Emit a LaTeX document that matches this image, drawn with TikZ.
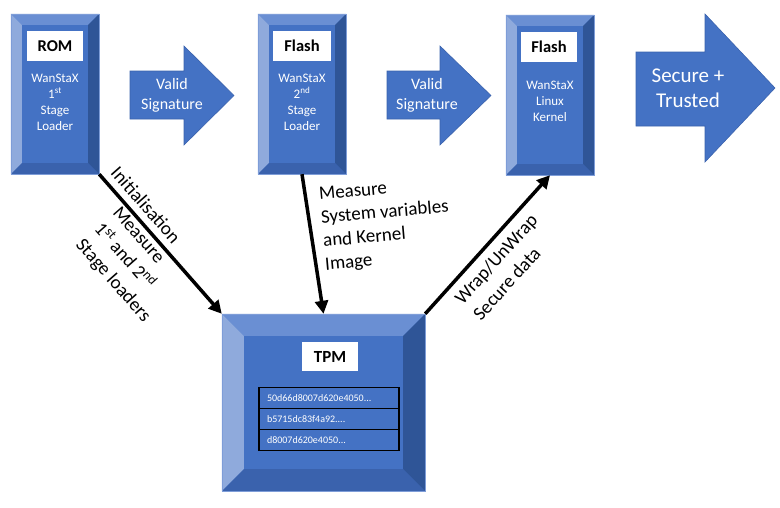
\documentclass[tikz,border=0pt]{standalone}
\usepackage{fontspec}
\setmainfont{Carlito}
\usetikzlibrary{arrows.meta,calc}
\definecolor{face}{HTML}{4472C4}
\definecolor{bvtop}{HTML}{6A8FD3}
\definecolor{bvleft}{HTML}{8FAADC}
\definecolor{bvright}{HTML}{2F5597}
\definecolor{bvbot}{HTML}{3A62AD}
\definecolor{edgec}{HTML}{7E9DD8}
\definecolor{arrline}{HTML}{3A62AD}
\newcommand\bevelize[2]{%
  \path (#1.north west) coordinate (#1-a) (#1.north east) coordinate (#1-b)
        (#1.south east) coordinate (#1-c) (#1.south west) coordinate (#1-d);
  \fill[bvtop] (#1-a) -- (#1-b) -- ($(#1-b)+(-#2,#2)$) -- ($(#1-a)+(#2,#2)$) -- cycle;
  \fill[bvleft] (#1-a) -- ($(#1-a)+(#2,#2)$) -- ($(#1-d)+(#2,-#2)$) -- (#1-d) -- cycle;
  \fill[bvright] (#1-b) -- (#1-c) -- ($(#1-c)+(-#2,-#2)$) -- ($(#1-b)+(-#2,#2)$) -- cycle;
  \fill[bvbot] (#1-d) -- (#1-c) -- ($(#1-c)+(-#2,-#2)$) -- ($(#1-d)+(#2,-#2)$) -- cycle;
  \draw[edgec, line width=0.6pt] (#1-a) rectangle (#1-c);
}
\tikzset{
  box/.style={rectangle, fill=face, inner sep=0pt, draw=none},
  boxtext/.style={text=white, align=center, inner sep=0pt, font=\fontsize{13}{16}\selectfont},
  lab/.style={rectangle, fill=white, inner sep=0pt, minimum height=30, text=black, font=\bfseries\fontsize{16.5}{18}\selectfont},
  hashrow/.style={rectangle, fill=face, draw=black, line width=1.2pt, minimum height=21, text width=124, inner xsep=8pt, inner ysep=0pt, align=left, text=white, font=\fontsize{10}{12}\selectfont},
  bigarrow/.style={fill=face, draw=arrline, line width=0.6pt},
  arrtext/.style={text=white, align=center, inner sep=0pt, font=\fontsize{16}{20}\selectfont},
  conn/.style={line width=3.5pt, black, -{Triangle[length=13pt,width=13pt]}},
  clab/.style={inner sep=0pt, text=black, font=\fontsize{19}{24.5}\selectfont}
}
\begin{document}
\begin{tikzpicture}[x=1pt,y=-1pt]
\useasboundingbox (0,0) rectangle (780,507);
% boxes
\node[box, minimum width=88, minimum height=160] (rom) at (55,94) {};
\bevelize{rom}{11}
\node[box, minimum width=88, minimum height=160] (flash1) at (302,94) {};
\bevelize{flash1}{11}
\node[box, minimum width=88, minimum height=160] (flash2) at (550,95) {};
\bevelize{flash2}{11}
\node[box, minimum width=203, minimum height=177] (tpm) at (323.5,402.5) {};
\bevelize{tpm}{22}
% labels
\node[lab, minimum width=56] (romlab) at (55,46) {ROM};
\node[lab, minimum width=58] (flash1lab) at (302,46) {Flash};
\node[lab, minimum width=56] (flash2lab) at (549,47) {Flash};
\node[lab, minimum width=56, minimum height=29, font=\bfseries\fontsize{17}{19}\selectfont] (tpmlab) at (330,356.5) {TPM};
% box texts
\node[boxtext] (romtext) at (55,102) {WanStaX\\1\textsuperscript{st}\\Stage\\Loader};
\node[boxtext] (flash1text) at (302,102) {WanStaX\\2\textsuperscript{nd}\\Stage\\Loader};
\node[boxtext] (flash2text) at (550,101) {WanStaX\\Linux\\Kernel};
% hash rows
\node[hashrow] (h1) at (329,398) {50d66d8007d620e4050...};
\node[hashrow] (h2) at (329,419) {b5715dc83f4a92....};
\node[hashrow] (h3) at (329,440) {d8007d620e4050...};
% block arrows
\draw[bigarrow] (130,71) -- (184,71) -- (184,46) -- (234,95.5) -- (184,145) -- (184,119) -- (130,119) -- cycle;
\node[arrtext] (vs1) at (172,95) {Valid\\Signature};
\draw[bigarrow] (387,71) -- (440,71) -- (440,46) -- (491,95.5) -- (440,145) -- (440,119) -- (387,119) -- cycle;
\node[arrtext] (vs2) at (427,95) {Valid\\Signature};
\draw[bigarrow] (636,52) -- (705,52) -- (705,14) -- (775,88) -- (705,162) -- (705,126) -- (636,126) -- cycle;
\node[arrtext, font=\fontsize{21}{25}\selectfont] (st) at (688,88) {Secure +\\Trusted};
% connectors
\draw[conn] (rom.south east) -- (tpm.north west);
\draw[conn] (flash1.south) -- (tpm.north);
\draw[conn] (tpm.north east) -- (flash2.south);
% connector labels
\node[clab, rotate=-48.7] (l1) at (146,205) {Initialisation};
\node[clab, rotate=-48.7, align=left] (l2) at (131,265) {Measure\\1\textsuperscript{st} and 2\textsuperscript{nd}\\Stage loaders};
\node[clab, rotate=5, align=left, font=\fontsize{19}{23.5}\selectfont] (l3) at (386,225) {Measure\\System variables\\and Kernel\\Image};
\node[clab, rotate=48, align=left] (l4) at (505,267) {Wrap/UnWrap\\Secure data};
\end{tikzpicture}
\end{document}
